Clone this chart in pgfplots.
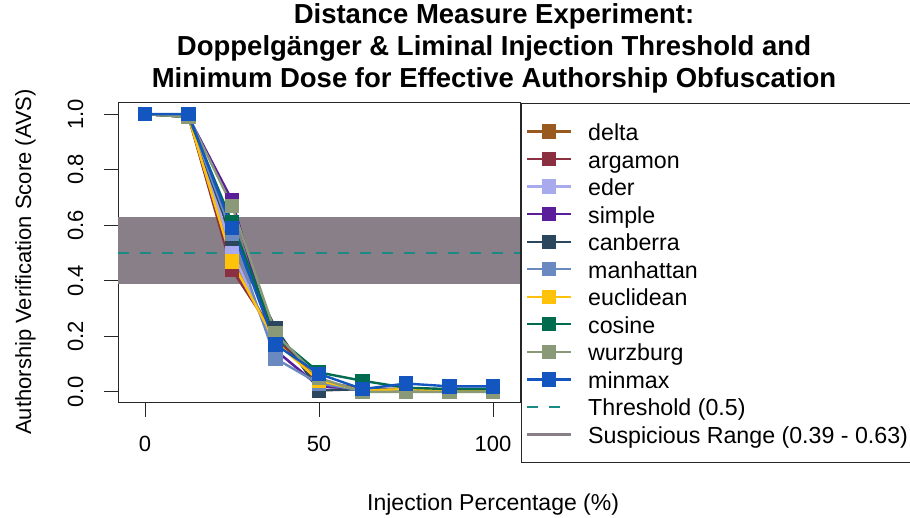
\documentclass[border=0pt]{standalone}
\usepackage{pgfplots}
\pgfplotsset{compat=1.18}
\usepackage{fontspec}
\setmainfont{Liberation Sans}
\definecolor{cdelta}{HTML}{985A1E}
\definecolor{cargamon}{HTML}{8B3040}
\definecolor{ceder}{HTML}{A9A9EE}
\definecolor{csimple}{HTML}{5A1E9A}
\definecolor{ccanberra}{HTML}{2A475E}
\definecolor{cmanhattan}{HTML}{6A89C0}
\definecolor{ceuclidean}{HTML}{FFC20A}
\definecolor{ccosine}{HTML}{006B4F}
\definecolor{cwurzburg}{HTML}{8A9A78}
\definecolor{cminmax}{HTML}{1456C0}
\definecolor{cthr}{HTML}{1A8A84}
\definecolor{cband}{HTML}{897F88}
\begin{document}
\begin{tikzpicture}[x=1pt,y=1pt]
\useasboundingbox (0,0) rectangle (910,518);
\node[anchor=base, font=\bfseries\fontsize{27.5}{32}\selectfont] at (494,494) {Distance Measure Experiment:};
\node[anchor=base, font=\bfseries\fontsize{27.5}{32}\selectfont] at (494,462) {Doppelgänger \& Liminal Injection Threshold and};
\node[anchor=base, font=\bfseries\fontsize{27.5}{32}\selectfont] at (494,430) {Minimum Dose for Effective Authorship Obfuscation};
\node[anchor=base west, font=\fontsize{23}{23}\selectfont, inner sep=0pt] at (367,7) {Injection Percentage (\%)};
\node[anchor=base west, rotate=90, font=\fontsize{22}{22}\selectfont, inner sep=0pt] at (31,83) {Authorship Verification Score (AVS)};
\begin{axis}[
  at={(118pt,115pt)}, anchor=south west,
  scale only axis, width=402pt, height=300pt,
  xmin=-7.76, xmax=107.76, ymin=-0.04, ymax=1.04,
  xtick={0,50,100}, ytick={0,0.2,0.4,0.6,0.8,1.0},
  xtick pos=bottom, ytick pos=left,
  xtick align=outside, ytick align=outside, major tick length=14pt,
  axis line style={line width=1pt, black!85},
  major tick style={draw=black!85, line width=1pt},
  tick label style={font=\fontsize{22}{22}\selectfont},
  /pgf/number format/assume math mode=true,
  y tick label style={/pgf/number format/fixed, /pgf/number format/fixed zerofill, /pgf/number format/precision=1, rotate=90, anchor=base, inner sep=0pt},
  x tick label style={anchor=base, inner sep=0pt},
  xticklabel shift=35pt, yticklabel shift=21pt,
  legend cell align=left,
  legend image code/.code={\draw[line width=2.2pt, mark repeat=2, mark phase=2, #1] plot coordinates {(0pt,0pt) (22pt,0pt) (44pt,0pt)};},
  legend style={font=\fontsize{23.2}{23.2}\selectfont, draw=black!85, line width=1pt,
    at={(rel axis cs:1,1)}, anchor=north west, xshift=0.5pt,
    inner xsep=5pt, inner ysep=17.5pt, row sep=6.55pt,
    nodes={inner sep=0pt, text height=19.5pt, text depth=1.5pt},
    /tikz/every odd column/.append style={column sep=16pt}},
  every axis plot/.append style={line width=2.4pt, mark=square*, mark size=6pt, mark options={solid}},
]
\addplot[fill=cband, draw=none, mark=none, forget plot] coordinates {(-7.76,0.39) (107.76,0.39) (107.76,0.63) (-7.76,0.63)} --cycle;
\addplot[cthr, mark=none, line width=2.6pt, dash pattern=on 11pt off 11pt, forget plot] coordinates {(-7.76,0.5) (107.76,0.5)};
\addplot[cdelta] coordinates {(0,1.0) (12.5,0.99) (25,0.47) (37.5,0.19) (50,0.04) (62.5,0.01) (75,0.01) (87.5,0.005) (100,0.005)};
\addlegendentry{delta}
\addplot[cargamon] coordinates {(0,1.0) (12.5,0.99) (25,0.44) (37.5,0.20) (50,0.03) (62.5,0.01) (75,0.01) (87.5,0.005) (100,0.005)};
\addlegendentry{argamon}
\addplot[ceder] coordinates {(0,1.0) (12.5,0.99) (25,0.51) (37.5,0.15) (50,0.02) (62.5,0.005) (75,0.005) (87.5,0.005) (100,0.005)};
\addlegendentry{eder}
\addplot[csimple] coordinates {(0,1.0) (12.5,0.99) (25,0.69) (37.5,0.15) (50,0.02) (62.5,0.01) (75,0.01) (87.5,0.005) (100,0.005)};
\addlegendentry{simple}
\addplot[ccanberra] coordinates {(0,1.0) (12.5,0.99) (25,0.55) (37.5,0.23) (50,0.005) (62.5,0.01) (75,0.01) (87.5,0.01) (100,0.01)};
\addlegendentry{canberra}
\addplot[cmanhattan] coordinates {(0,1.0) (12.5,0.99) (25,0.57) (37.5,0.12) (50,0.03) (62.5,0.005) (75,0.01) (87.5,0.005) (100,0.005)};
\addlegendentry{manhattan}
\addplot[ceuclidean] coordinates {(0,1.0) (12.5,0.99) (25,0.47) (37.5,0.18) (50,0.04) (62.5,0.005) (75,0.01) (87.5,0.005) (100,0.005)};
\addlegendentry{euclidean}
\addplot[ccosine] coordinates {(0,1.0) (12.5,0.99) (25,0.61) (37.5,0.20) (50,0.07) (62.5,0.04) (75,0.015) (87.5,0.01) (100,0.01)};
\addlegendentry{cosine}
\addplot[cwurzburg] coordinates {(0,1.0) (12.5,0.99) (25,0.67) (37.5,0.21) (50,0.05) (62.5,0.0) (75,0.0) (87.5,0.0) (100,0.0)};
\addlegendentry{wurzburg}
\addplot[cminmax] coordinates {(0,1.0) (12.5,1.0) (25,0.59) (37.5,0.17) (50,0.065) (62.5,0.01) (75,0.03) (87.5,0.02) (100,0.02)};
\addlegendentry{minmax}
\addlegendimage{cthr, line width=2.6pt, dash pattern=on 11pt off 11pt, mark=none}
\addlegendentry{Threshold (0.5)}
\addlegendimage{cband, line width=2.6pt, mark=none}
\addlegendentry{Suspicious Range (0.39 - 0.63)}
\end{axis}
\end{tikzpicture}
\end{document}
